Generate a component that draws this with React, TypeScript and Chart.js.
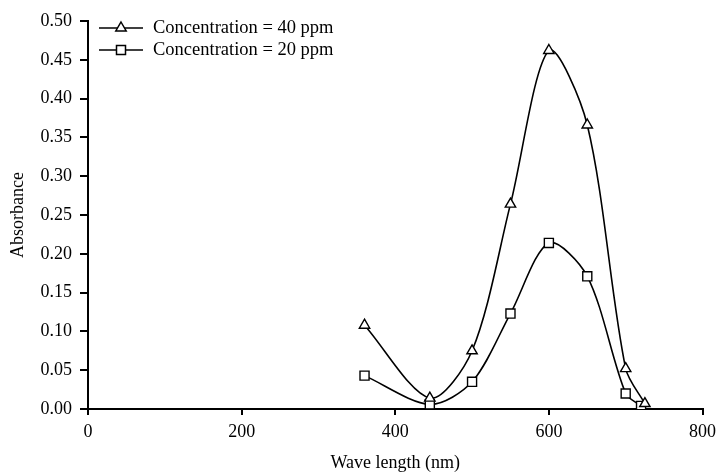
import React, { useEffect, useRef } from 'react';
import { Chart, registerables } from 'chart.js';

Chart.register(...registerables);

const wavelength40 = [360, 445, 500, 550, 600, 650, 700, 725];
const absorbance40 = [0.108, 0.014, 0.075, 0.264, 0.462, 0.366, 0.052, 0.007];
const wavelength20 = [360, 445, 500, 550, 600, 650, 700, 720];
const absorbance20 = [0.043, 0.006, 0.035, 0.123, 0.214, 0.171, 0.02, 0.004];
const seriesLabels = ['Concentration = 40 ppm', 'Concentration = 20 ppm'];
const xTitle = 'Wave length (nm)';
const yTitle = 'Absorbance';

const FONT = 'Liberation Serif';

const legendPlugin = {
  id: 'customLegend',
  afterDraw(chart: any) {
    const ctx = chart.ctx;
    const rows = [
      { y: 28, style: 'triangle', label: seriesLabels[0] },
      { y: 50, style: 'rect', label: seriesLabels[1] },
    ];
    ctx.save();
    rows.forEach((r) => {
      ctx.strokeStyle = '#000';
      ctx.lineWidth = 1.6;
      ctx.beginPath();
      ctx.moveTo(99, r.y);
      ctx.lineTo(143, r.y);
      ctx.stroke();
      const cx = 121;
      ctx.fillStyle = '#fff';
      ctx.lineWidth = 1.5;
      ctx.beginPath();
      if (r.style === 'triangle') {
        const rad = 6;
        ctx.moveTo(cx, r.y - rad);
        ctx.lineTo(cx + rad * 0.866, r.y + rad * 0.5);
        ctx.lineTo(cx - rad * 0.866, r.y + rad * 0.5);
        ctx.closePath();
      } else {
        ctx.rect(cx - 4.5, r.y - 4.5, 9, 9);
      }
      ctx.fill();
      ctx.stroke();
      ctx.fillStyle = '#000';
      ctx.font = `18.5px "${FONT}"`;
      ctx.textBaseline = 'middle';
      ctx.textAlign = 'left';
      ctx.fillText(r.label, 153, r.y);
    });
    ctx.restore();
  },
};

export default function App() {
  const ref = useRef<HTMLCanvasElement | null>(null);

  useEffect(() => {
    if (!ref.current) return;
    const chart = new Chart(ref.current, {
      type: 'line',
      data: {
        datasets: [
          {
            label: seriesLabels[0],
            data: wavelength40.map((x, i) => ({ x, y: absorbance40[i] })),
            borderColor: '#000',
            borderWidth: 1.6,
            tension: 0.3,
            pointStyle: 'triangle',
            pointRadius: 6,
            pointBackgroundColor: '#fff',
            pointBorderColor: '#000',
            pointBorderWidth: 1.4,
            fill: false,
          },
          {
            label: seriesLabels[1],
            data: wavelength20.map((x, i) => ({ x, y: absorbance20[i] })),
            borderColor: '#000',
            borderWidth: 1.6,
            tension: 0.3,
            pointStyle: 'rect',
            pointRadius: 6.4,
            pointBackgroundColor: '#fff',
            pointBorderColor: '#000',
            pointBorderWidth: 1.4,
            fill: false,
          },
        ],
      },
      options: {
        animation: false,
        responsive: false,
        layout: { padding: { top: 21, right: 18, left: 0, bottom: 0 } },
        plugins: {
          legend: { display: false },
          tooltip: { enabled: false },
        },
        scales: {
          x: {
            type: 'linear',
            min: 0,
            max: 800,
            ticks: {
              stepSize: 200,
              color: '#000',
              padding: 6,
              maxRotation: 0,
              font: { family: FONT, size: 18 },
            },
            grid: {
              drawOnChartArea: false,
              drawTicks: true,
              tickLength: 6,
              color: '#000',
              lineWidth: 2,
            },
            border: { display: true, color: '#000', width: 2 },
            title: {
              display: true,
              text: xTitle,
              color: '#000',
              font: { family: FONT, size: 18 },
              padding: { top: 0, bottom: 1 },
            },
            afterFit(scale: any) {
              scale.height = 66;
            },
          },
          y: {
            type: 'linear',
            min: 0,
            max: 0.5,
            ticks: {
              stepSize: 0.05,
              color: '#000',
              padding: 8,
              font: { family: FONT, size: 18 },
              callback: (v: any) => Number(v).toFixed(2),
            },
            grid: {
              drawOnChartArea: false,
              drawTicks: true,
              tickLength: 8,
              color: '#000',
              lineWidth: 2,
            },
            border: { display: true, color: '#000', width: 2 },
            title: {
              display: true,
              text: yTitle,
              color: '#000',
              font: { family: FONT, size: 18 },
              padding: { top: 7, bottom: 0 },
            },
            afterFit(scale: any) {
              scale.width = 88;
            },
          },
        },
      },
      plugins: [legendPlugin],
    } as any);
    return () => chart.destroy();
  }, []);

  return (
    <div style={{ position: 'fixed', left: 0, top: 0, width: 722, height: 475, background: '#fff' }}>
      <canvas ref={ref} width={722} height={475} style={{ width: 722, height: 475, display: 'block' }} />
    </div>
  );
}
